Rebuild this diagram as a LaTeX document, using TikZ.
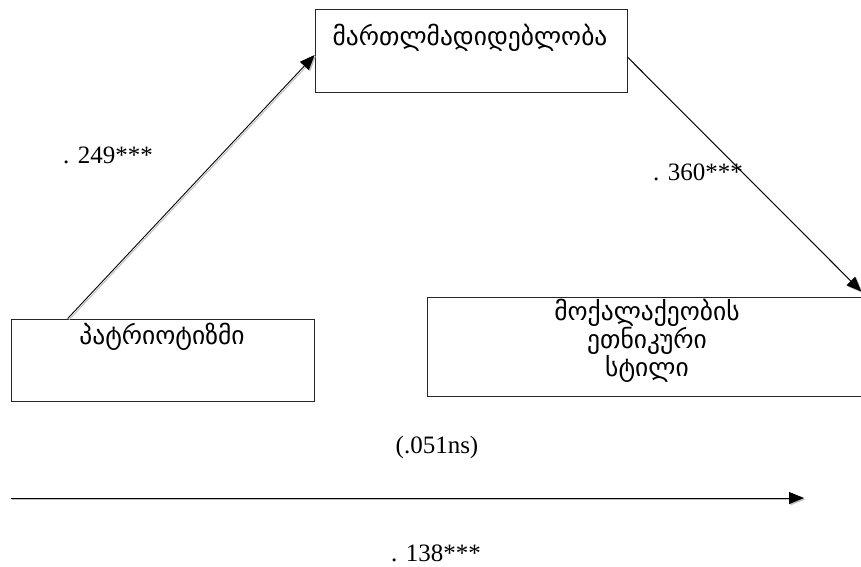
\documentclass[tikz,border=0pt]{standalone}
\usepackage{fontspec}
\setmainfont{Liberation Serif}
\newfontfamily\geo{DejaVu Sans}
\usetikzlibrary{arrows.meta,calc}
\begin{document}
\begin{tikzpicture}[x=1pt,y=-1pt,
  box/.style={draw=black!85, line width=0.8pt, inner sep=0pt},
  geotext/.style={font=\geo\fontsize{25.5}{27}\selectfont, align=center, inner sep=0pt},
  numlabel/.style={font=\fontsize{25}{30}\selectfont, inner sep=0pt},
  arr/.style={line width=0.9pt, -{Triangle[length=15pt,width=12pt]}},
  arrshadow/.style={line width=1pt, draw=black!25, -{Triangle[length=15pt,width=12pt]}, black!25,
    transform canvas={xshift=1.3pt,yshift=-1.3pt}}]
\useasboundingbox (0,0) rectangle (861,566);
% boxes
\node[box, minimum width=312pt, minimum height=83pt] (mart) at (471,50.5) {};
\node[box, minimum width=303pt, minimum height=82pt] (pat) at (162.5,360) {};
\node[box, minimum width=436pt, minimum height=99pt] (eth) at (645,346.5) {};
% box texts
\node[geotext] (martt) at (470,38) {მართლმადიდებლობა};
\node[geotext] (patt) at (162,337) {პატრიოტიზმი};
\node[geotext] (etht) at (647,341) {მოქალაქეობის\\ეთნიკური\\სტილი};
% connectors
\coordinate (h1) at (11,498);
\coordinate (h2) at (804,498);
\draw[arrshadow] ([xshift=57pt]pat.north west) -- ([yshift=-4.5pt]mart.west);
\draw[arr] ([xshift=57pt]pat.north west) -- ([yshift=-4.5pt]mart.west);
\draw[arrshadow] ([yshift=-6.5pt]mart.east) -- ([xshift=-2pt,yshift=5pt]eth.north east);
\draw[arr] ([yshift=-6.5pt]mart.east) -- ([xshift=-2pt,yshift=5pt]eth.north east);
\draw[arrshadow] (h1) -- (h2);
\draw[arr] (h1) -- (h2);
% labels
\node[numlabel] (l1) at (108,155) {. 249***};
\node[numlabel] (l2) at (698,172) {. 360***};
\node[numlabel] (l3) at (437,447) {(.051ns)};
\node[numlabel] (l4) at (436,553) {. 138***};
\end{tikzpicture}
\end{document}
